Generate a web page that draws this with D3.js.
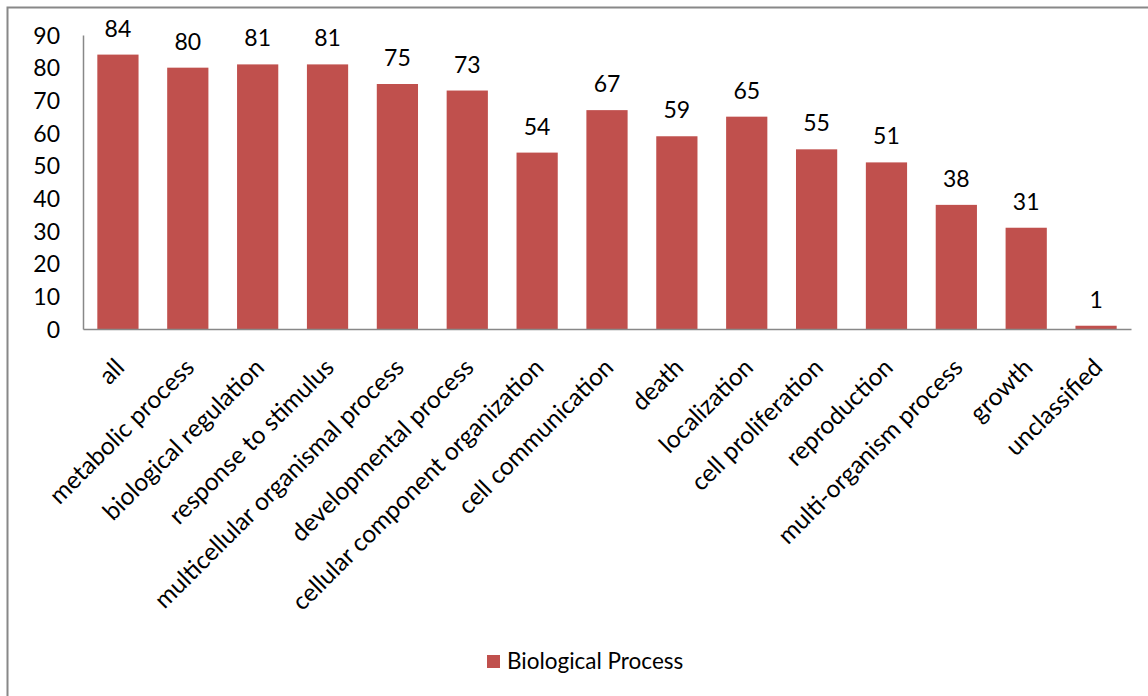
<!DOCTYPE html>
<html>
<head>
<meta charset="utf-8">
<script src="https://cdn.jsdelivr.net/npm/d3@7"></script>
<style>
  html, body { margin: 0; padding: 0; background: #fff; }
  svg { display: block; }
  text { font-family: Lato, "Open Sans", sans-serif; fill: #000; }
</style>
</head>
<body>
<script>
// GO biological process categories and gene counts
const categories = [
  "all", "metabolic process", "biological regulation", "response to stimulus",
  "multicellular organismal process", "developmental process",
  "cellular component organization", "cell communication", "death",
  "localization", "cell proliferation", "reproduction",
  "multi-organism process", "growth", "unclassified"
];
const counts = [84, 80, 81, 81, 75, 73, 54, 67, 59, 65, 55, 51, 38, 31, 1];
const yTicks = [0, 10, 20, 30, 40, 50, 60, 70, 80, 90];
const seriesName = "Biological Process";

const W = 1148, H = 696;
const plot = { left: 83, right: 1131, top: 35, bottom: 329 };
const barColor = "#C0504D";

const svg = d3.select("body").append("svg")
  .attr("width", W).attr("height", H);

// chart frame
svg.append("rect")
  .attr("x", 7.5).attr("y", 7.5)
  .attr("width", W + 10).attr("height", H + 10)
  .attr("fill", "none").attr("stroke", "#888").attr("stroke-width", 2);

const x = d3.scaleBand()
  .domain(categories)
  .range([plot.left, plot.right])
  .paddingInner(0.41).paddingOuter(0.205);

const y = d3.scaleLinear().domain([0, 90]).range([plot.bottom, plot.top]);

// bars
svg.append("g").selectAll("rect")
  .data(categories)
  .join("rect")
  .attr("x", d => x(d))
  .attr("width", x.bandwidth())
  .attr("y", (d, i) => y(counts[i]))
  .attr("height", (d, i) => y(0) - y(counts[i]))
  .attr("fill", barColor);

// value labels
svg.append("g").selectAll("text")
  .data(categories)
  .join("text")
  .attr("x", d => x(d) + x.bandwidth() / 2)
  .attr("y", (d, i) => y(counts[i]) - 18)
  .attr("text-anchor", "middle")
  .attr("font-size", 23)
  .text((d, i) => counts[i]);

// y axis
const yAxis = svg.append("g")
  .attr("transform", `translate(${plot.left},0)`)
  .call(d3.axisLeft(y).tickValues(yTicks).tickSize(0).tickPadding(23));
yAxis.select(".domain").attr("stroke", "#888").attr("stroke-width", 1.5);
yAxis.selectAll("text").attr("font-size", 23).attr("font-family", "Lato, sans-serif").attr("dy", "0.35em");

// x axis
const xAxis = svg.append("g")
  .attr("transform", `translate(0,${plot.bottom})`)
  .call(d3.axisBottom(x).tickSize(0).tickPadding(0));
xAxis.select(".domain").attr("stroke", "#888").attr("stroke-width", 1.5);
xAxis.selectAll("text")
  .attr("font-size", 24.5)
  .attr("font-family", "Lato, sans-serif")
  .attr("text-anchor", "end")
  .attr("dy", null)
  .attr("y", 0)
  .attr("transform", "translate(8,40) rotate(-45)");

// legend
const legend = svg.append("g").attr("transform", "translate(487,655)");
legend.append("rect").attr("width", 13).attr("height", 13).attr("fill", barColor);
legend.append("text").attr("x", 20).attr("y", 6.5).attr("dy", "0.35em")
  .attr("font-size", 22.5).text(seriesName);
</script>
</body>
</html>
